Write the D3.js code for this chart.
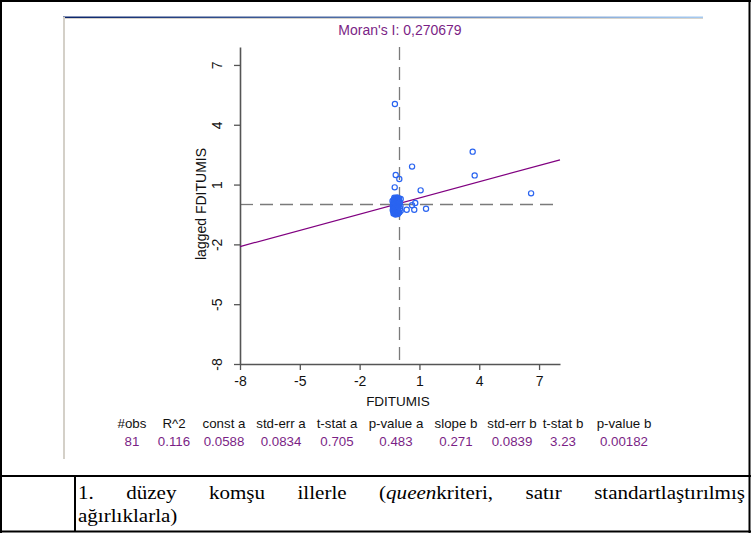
<!DOCTYPE html>
<html><head><meta charset="utf-8">
<script src="https://cdn.jsdelivr.net/npm/d3@7"></script>
<style>
html,body{margin:0;padding:0;background:#fff;}
svg{display:block;}
</style></head>
<body>
<svg id="c" width="751" height="537"></svg>
<script>
// ---- data ----
const title = "Moran's I: 0,270679";
const xLabel = "FDITUMIS";
const yLabel = "lagged FDITUMIS";
const xTicks = [-8, -5, -2, 1, 4, 7];
const yTicks = [-8, -5, -2, 1, 4, 7];
const xDomain = [-8, 8.05];
const yDomain = [-8, 7.9];
const intercept = 0.0588;
const slope = 0.271;
// scattered points (standardized FDITUMIS, lagged FDITUMIS)
const outX = [3.67, 0.63, -0.19, -0.01, 3.77, -0.24, 1.06, 6.60, 0.06, 0.79, 0.63, 0.36, 0.74, 1.33, -0.01, -0.23, 0.06];
const outY = [2.65, 1.90, 1.48, 1.28, 1.46, 0.86, 0.71, 0.56, 0.28, 0.08, -0.04, -0.26, -0.26, -0.21, -0.39, 5.04, -0.31];
const clusterX = [-0.30,-0.28,-0.25,-0.22,-0.18,-0.15,-0.12,-0.31,-0.27,-0.23,-0.20,-0.16,-0.13,-0.09,-0.32,-0.29,-0.26,-0.21,-0.17,-0.14,-0.10,-0.07,-0.33,-0.30,-0.27,-0.24,-0.19,-0.15,-0.11,-0.06,-0.32,-0.28,-0.25,-0.22,-0.18,-0.14,-0.10,-0.05,-0.31,-0.27,-0.23,-0.20,-0.16,-0.12,-0.08,-0.29,-0.25,-0.21,-0.17,-0.13,-0.09,-0.04,-0.02,0.02,0.03,-0.34,-0.20,-0.08,0.00,-0.26,-0.12,-0.03,0.05,-0.35];
const clusterY = [-0.45,-0.40,-0.42,-0.47,-0.44,-0.38,-0.43,-0.33,-0.30,-0.35,-0.31,-0.28,-0.34,-0.37,-0.22,-0.18,-0.24,-0.20,-0.16,-0.23,-0.19,-0.26,-0.10,-0.06,-0.12,-0.08,-0.11,-0.05,-0.09,-0.13,0.02,0.05,-0.01,0.03,0.00,0.06,0.01,-0.02,0.12,0.15,0.10,0.17,0.12,0.19,0.14,0.24,0.28,0.22,0.30,0.25,0.32,0.22,0.30,0.10,-0.20,-0.28,-0.50,-0.48,0.05,0.34,0.36,-0.40,-0.08,0.18];
const statHeaders = ["#obs","R^2","const a","std-err a","t-stat a","p-value a","slope b","std-err b","t-stat b","p-value b"];
const statValues = ["81","0.116","0.0588","0.0834","0.705","0.483","0.271","0.0839","3.23","0.00182"];
const captionWords = ["1.","düzey","komşu","illerle","(|queen|kriteri,","satır","standartlaştırılmış"];
const captionLine2 = "ağırlıklarla)";

// ---- drawing ----
const svg = d3.select("#c");
const sans = "'Liberation Sans', Arial, sans-serif";
const serif = "'Liberation Serif', 'Times New Roman', serif";
const purple = "#7b1f86";

// outer table frame
const frame = svg.append("g").attr("stroke","#000").attr("fill","none");
frame.append("line").attr("x1",0).attr("x2",751).attr("y1",1).attr("y2",1).attr("stroke-width",2);
frame.append("line").attr("x1",1).attr("x2",1).attr("y1",0).attr("y2",533).attr("stroke-width",2);
frame.append("line").attr("x1",749.5).attr("x2",749.5).attr("y1",0).attr("y2",533).attr("stroke-width",2);
frame.append("line").attr("x1",0).attr("x2",751).attr("y1",476).attr("y2",476).attr("stroke-width",2);
frame.append("line").attr("x1",0).attr("x2",751).attr("y1",531.5).attr("y2",531.5).attr("stroke-width",2);
frame.append("line").attr("x1",75).attr("x2",75).attr("y1",476).attr("y2",532).attr("stroke-width",2);

// window chrome
const defs = svg.append("defs");
const gr = defs.append("linearGradient").attr("id","tb").attr("x1","0").attr("x2","1").attr("y1","0").attr("y2","0");
gr.append("stop").attr("offset","0").attr("stop-color","#0a246a");
gr.append("stop").attr("offset","1").attr("stop-color","#a6caf0");
svg.append("rect").attr("x",63).attr("y",16.5).attr("width",640).attr("height",1.6).attr("fill","url(#tb)");
svg.append("rect").attr("x",63).attr("y",18.1).attr("width",640).attr("height",0.9).attr("fill","#d4d0c8");
svg.append("rect").attr("x",63).attr("y",17).attr("width",2).attr("height",442).attr("fill","#d4d0c8");

// scales
const x = d3.scaleLinear().domain(xDomain).range([240, 560]);
const y = d3.scaleLinear().domain(yDomain).range([364, 47]);

// title
svg.append("text").attr("x",400).attr("y",35).attr("text-anchor","middle")
  .attr("font-family",sans).attr("font-size",14).attr("fill",purple).text(title);

// dashed reference lines
svg.append("line").attr("x1",x(0)).attr("x2",x(0)).attr("y1",y(yDomain[1])).attr("y2",y(yDomain[0]))
  .attr("stroke","#7a7a7a").attr("stroke-width",1.3).attr("stroke-dasharray","13,7");
svg.append("line").attr("x1",x(xDomain[0])).attr("x2",x(xDomain[1])).attr("y1",y(0)).attr("y2",y(0))
  .attr("stroke","#7a7a7a").attr("stroke-width",1.3).attr("stroke-dasharray","13,7");

// axes
const axisColor = "#555";
const fmt = d => String(d);
const gx = svg.append("g").attr("transform",`translate(0,${y(yDomain[0])})`)
  .call(d3.axisBottom(x).tickValues(xTicks).tickSize(6).tickSizeOuter(0).tickFormat(fmt));
const gy = svg.append("g").attr("transform",`translate(${x(xDomain[0])},0)`)
  .call(d3.axisLeft(y).tickValues(yTicks).tickSize(6).tickSizeOuter(0).tickFormat(fmt));
[gx,gy].forEach(g=>{
  g.select(".domain").attr("stroke",axisColor).attr("stroke-width",1.6);
  g.selectAll(".tick line").attr("stroke",axisColor).attr("stroke-width",1.3);
  g.selectAll(".tick text").attr("font-family",sans).attr("font-size",14).attr("fill","#111");
});
gx.selectAll(".tick text").attr("dy",null).attr("y",22);
gy.selectAll(".tick text").attr("x",null).attr("dy",null)
  .attr("text-anchor","middle").attr("transform","translate(-18,0) rotate(-90)");

svg.append("text").attr("x",398).attr("y",406).attr("text-anchor","middle")
  .attr("font-family",sans).attr("font-size",13.5).attr("fill","#111").text(xLabel);
svg.append("text").attr("transform","translate(206,204) rotate(-90)").attr("text-anchor","middle")
  .attr("font-family",sans).attr("font-size",14).attr("fill","#111").text(yLabel);

// regression line
svg.append("line")
  .attr("x1",x(xDomain[0])).attr("y1",y(intercept+slope*xDomain[0]))
  .attr("x2",x(xDomain[1])).attr("y2",y(intercept+slope*xDomain[1]))
  .attr("stroke","#800080").attr("stroke-width",1.2);

// points
const pts = clusterX.map((v,i)=>[v,clusterY[i]]).concat(outX.map((v,i)=>[v,outY[i]]));
svg.append("g").selectAll("circle").data(pts).join("circle")
  .attr("cx",d=>x(d[0])).attr("cy",d=>y(d[1])).attr("r",2.6)
  .attr("fill","none").attr("stroke","#2a64f0").attr("stroke-width",1.2);

// stats table
const colX = [132,174,224,281,337,396,456,512,563,624];
svg.append("g").selectAll("text").data(statHeaders).join("text")
  .attr("x",(d,i)=>colX[i]).attr("y",428).attr("text-anchor","middle")
  .attr("font-family",sans).attr("font-size",13.3).attr("fill","#111").text(d=>d);
svg.append("g").selectAll("text").data(statValues).join("text")
  .attr("x",(d,i)=>colX[i]).attr("y",446).attr("text-anchor","middle")
  .attr("font-family",sans).attr("font-size",13.3).attr("fill",purple).text(d=>d);

// caption (justified first line), slightly widened like the source document
const capSize = 18, sx = 1.17;
const left = 78, right = 745;
const capG = svg.append("g").attr("font-family",serif).attr("font-size",capSize).attr("fill","#000")
  .attr("transform",`translate(${left},0) scale(${sx},1)`);
const wordEls = captionWords.map(w=>{
  const t = capG.append("text").attr("y",499);
  const parts = w.split("|");
  parts.forEach((p,k)=>{
    const ts = t.append("tspan").text(p);
    if (parts.length===3 && k===1) ts.attr("font-style","italic");
  });
  return t;
});
const widths = wordEls.map(t=>t.node().getComputedTextLength());
const span = (right-left)/sx;
const gap = (span-d3.sum(widths))/(wordEls.length-1);
let cx = 0;
wordEls.forEach((t,i)=>{ t.attr("x",cx); cx += widths[i]+gap; });
capG.append("text").attr("x",0).attr("y",522).text(captionLine2);
</script>
</body></html>
